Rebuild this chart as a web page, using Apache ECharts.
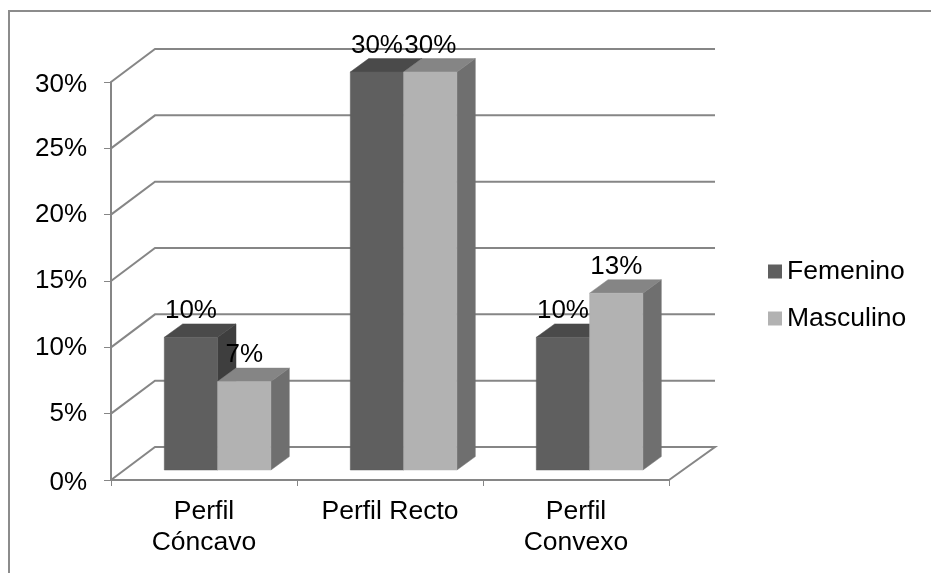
<!DOCTYPE html>
<html>
<head>
<meta charset="utf-8">
<style>
html, body { margin: 0; padding: 0; background: #fff; }
#chart { width: 931px; height: 573px; }
</style>
<script src="https://cdn.jsdelivr.net/npm/echarts@6/dist/echarts.min.js"></script>
</head>
<body>
<div id="chart"></div>
<script>
const categories = ['Perfil\nCóncavo', 'Perfil Recto', 'Perfil\nConvexo'];
const femenino = [10, 30, 10];
const masculino = [6.67, 30, 13.33];
const yTicks = [0, 5, 10, 15, 20, 25, 30];

const FONT = '"Liberation Sans", Arial, sans-serif';
const LINE = '#868686';
const FONT_SIZE = 26;
const FONT_SIZE_WIDE = 26.5;

// Oblique projection of the chart box: depth of the walls and position of the bar row.
const WALL_DX = 44, WALL_DY = -33;
const ROW_DX = 13.6, ROW_DY = -10;
const BAR_W = 53.3, BAR_DX = 18.4, BAR_DY = -13.4;

function poly(points, fill, z2) {
  return {
    type: 'polygon',
    z2: z2,
    shape: { points: points },
    style: { fill: fill, stroke: fill, lineWidth: 0.5 }
  };
}

// One 3D column: side and top faces behind, front face on top. side is -1 left of the band centre, 0 right of it.
function barRenderer(side, colors) {
  return function (params, api) {
    const base = api.coord([api.value(0), 0]);
    const top = api.coord([api.value(0), api.value(1)]);
    const x0 = base[0] + ROW_DX + side * BAR_W;
    const x1 = x0 + BAR_W;
    const yb = base[1] + ROW_DY;
    const yt = top[1] + ROW_DY;
    return {
      type: 'group',
      children: [
        poly([[x1, yb], [x1 + BAR_DX, yb + BAR_DY], [x1 + BAR_DX, yt + BAR_DY], [x1, yt]], colors.side, 1),
        poly([[x0, yt], [x1, yt], [x1 + BAR_DX, yt + BAR_DY], [x0 + BAR_DX, yt + BAR_DY]], colors.top, 1),
        poly([[x0, yb], [x1, yb], [x1, yt], [x0, yt]], colors.front, 2)
      ]
    };
  };
}

// Value label above a column, centred on its front face; the shown text is the value rounded to a whole percent.
function labelRenderer(side) {
  return function (params, api) {
    const base = api.coord([api.value(0), 0]);
    const top = api.coord([api.value(0), api.value(1)]);
    return {
      type: 'text',
      z2: 5,
      style: {
        x: base[0] + ROW_DX + side * BAR_W + BAR_W / 2,
        y: top[1] + ROW_DY + BAR_DY,
        text: Math.round(api.value(1)) + '%',
        fill: '#000',
        font: FONT_SIZE + 'px ' + FONT,
        textAlign: 'center',
        textVerticalAlign: 'bottom'
      }
    };
  };
}

// Side wall and back wall rules for each value tick, plus the floor outline.
function wallRenderer(params, api) {
  const c = params.coordSys;
  const p = api.coord([0, api.value(0)]);
  const xLeft = c.x;
  const xRight = c.x + c.width;
  const pts = [[xLeft, p[1]], [xLeft + WALL_DX, p[1] + WALL_DY], [xRight + WALL_DX + 2, p[1] + WALL_DY]];
  if (api.value(0) === 0) {
    pts.push([xRight, p[1]]);
  }
  return {
    type: 'polyline',
    shape: { points: pts },
    style: { fill: null, stroke: LINE, lineWidth: 2 }
  };
}

const bars = [
  { name: 'Femenino', values: femenino, side: -1, colors: { front: '#5f5f5f', top: '#4a4a4a', side: '#3e3e3e' } },
  { name: 'Masculino', values: masculino, side: 0, colors: { front: '#b2b2b2', top: '#858585', side: '#6f6f6f' } }
];

const chart = echarts.init(document.getElementById('chart'), null, { renderer: 'canvas' });

chart.setOption({
  animation: false,
  backgroundColor: '#fff',
  // Chart frame: only the top and left edges fall inside the page.
  graphic: [{
    type: 'polyline',
    shape: { points: [[9, 573], [9, 11], [931, 11]] },
    style: { fill: null, stroke: '#8c8c8c', lineWidth: 2 },
    silent: true,
    z: 0
  }],
  textStyle: { fontFamily: FONT },
  grid: { left: 111, top: 82, width: 558, height: 398 },
  legend: {
    orient: 'vertical',
    left: 768,
    top: 258,
    padding: 0,
    itemWidth: 14,
    itemHeight: 14,
    itemGap: 20,
    icon: 'rect',
    data: ['Femenino', 'Masculino'],
    textStyle: { fontFamily: FONT, fontSize: FONT_SIZE_WIDE, color: '#000', lineHeight: 26 }
  },
  xAxis: {
    type: 'category',
    data: categories,
    boundaryGap: true,
    axisLine: { show: true, lineStyle: { color: LINE, width: 2 } },
    axisTick: { show: true, alignWithLabel: false, length: 6, lineStyle: { color: LINE, width: 1 } },
    axisLabel: { color: '#000', fontFamily: FONT, fontSize: FONT_SIZE_WIDE, lineHeight: 31, margin: 16, interval: 0 }
  },
  yAxis: {
    type: 'value',
    min: 0,
    max: 30,
    interval: 5,
    splitLine: { show: false },
    axisLine: { show: true, lineStyle: { color: LINE, width: 2 } },
    axisTick: { show: true, length: 7, lineStyle: { color: LINE, width: 1 } },
    // The first and last labels sit a little lower than the others relative to their ticks.
    axisLabel: {
      color: '#000',
      fontFamily: FONT,
      fontSize: FONT_SIZE,
      margin: 24,
      formatter: function (v) {
        const end = v === yTicks[0] || v === yTicks[yTicks.length - 1];
        return end ? '{end|' + v + '%}' : '{mid|' + v + '%}';
      },
      rich: {
        mid: { fontFamily: FONT, fontSize: FONT_SIZE, color: '#000' },
        end: { fontFamily: FONT, fontSize: FONT_SIZE, color: '#000', padding: [5, 0, 0, 0] }
      }
    }
  },
  series: [
    {
      type: 'custom',
      name: 'walls',
      coordinateSystem: 'cartesian2d',
      renderItem: wallRenderer,
      data: yTicks.map(v => [v]),
      encode: { y: 0 },
      silent: true,
      z: 1
    }
  ].concat(bars.map(b => ({
    type: 'custom',
    name: b.name,
    coordinateSystem: 'cartesian2d',
    itemStyle: { color: b.colors.front },
    renderItem: barRenderer(b.side, b.colors),
    data: b.values.map((v, k) => [k, v]),
    encode: { x: 0, y: 1 },
    z: 2
  }))).concat(bars.map(b => ({
    type: 'custom',
    name: b.name + ' labels',
    coordinateSystem: 'cartesian2d',
    silent: true,
    renderItem: labelRenderer(b.side),
    data: b.values.map((v, k) => [k, v]),
    encode: { x: 0, y: 1 },
    z: 3
  })))
});
</script>
</body>
</html>
